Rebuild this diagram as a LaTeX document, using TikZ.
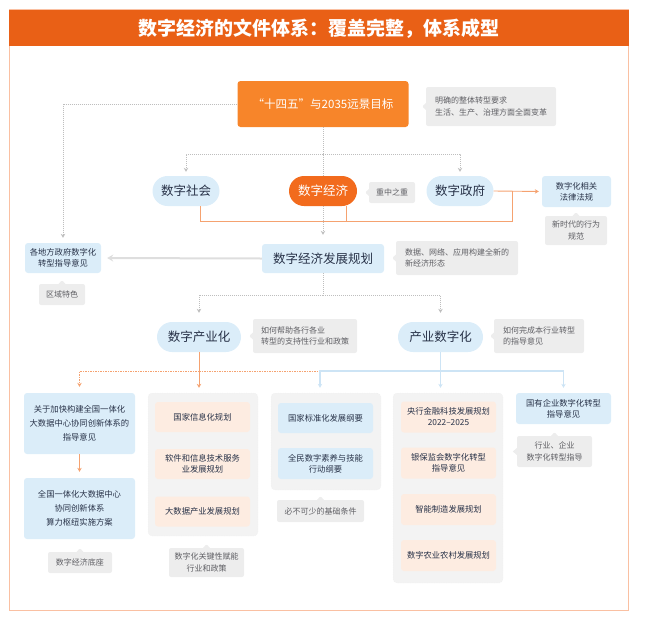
\documentclass[tikz,border=0pt]{standalone}
\usepackage{fontspec}
\setmainfont{Noto Sans CJK SC}
\usepackage{tikz}
\usetikzlibrary{
  arrows.meta,
  positioning,
  calc,
  shapes.callouts
}
\usepackage{xcolor}
\definecolor{titleOrange}{RGB}{233,96,22}
\definecolor{frameOrange}{RGB}{250,192,162}
\definecolor{goalOrange}{RGB}{247,133,42}
\definecolor{econOrange}{RGB}{242,107,29}
\definecolor{paleBlue}{RGB}{219,237,249}
\definecolor{palePeach}{RGB}{253,236,225}
\definecolor{noteGray}{RGB}{237,237,237}
\definecolor{trayGray}{RGB}{243,243,243}
\definecolor{linkOrange}{RGB}{245,162,112}
\definecolor{linkBlue}{RGB}{205,228,245}
\definecolor{linkGray}{RGB}{190,190,190}
\definecolor{inkNavy}{RGB}{40,50,72}
\definecolor{inkGray}{RGB}{95,95,100}
\newcommand{\noteLeft}[6]{\node[note, align=left, minimum width=#4pt,
  minimum height=#5pt,
  callout absolute pointer={({#2-0.5*#4-4},#3)}] (#1) at (#2,#3) {#6};}
\newcommand{\noteUp}[6]{\node[note, align=center, minimum width=#4pt,
  minimum height=#5pt,
  callout absolute pointer={(#2,{#3-0.5*#5-4})}] (#1) at (#2,#3) {#6};}
\tikzset{
  pill/.style={
    rectangle,
    rounded corners=15pt,
    fill=paleBlue,
    text=inkNavy,
    inner sep=0pt,
    minimum height=30pt,
    font=\fontsize{12.5}{14}\selectfont
  }
}
\tikzset{
  card/.style={
    rectangle,
    rounded corners=3pt,
    fill=paleBlue,
    text=inkNavy,
    inner sep=0pt,
    align=center,
    font=\fontsize{8.3}{11}\selectfont
  },
  peachCard/.style={card, fill=palePeach, minimum width=95pt, minimum height=30pt},
  blueCard/.style={card, minimum width=95pt, minimum height=30pt}
}
\tikzset{
  tray/.style={
    rectangle,
    rounded corners=4pt,
    fill=trayGray,
    draw=black!8,
    dotted,
    minimum width=110pt
  }
}
\tikzset{
  note/.style={
    rectangle callout,
    rounded corners=2pt,
    callout pointer width=7pt,
    fill=noteGray,
    text=inkGray,
    inner sep=0pt,
    font=\fontsize{8}{11.5}\selectfont
  }
}
\tikzset{
  tip/.style={-{Stealth[length=4pt,width=4.5pt]}},
  dotLine/.style={draw=linkGray, line width=0.7pt, dash pattern=on 1pt off 1pt},
  dotLink/.style={dotLine, tip},
  orangeLine/.style={draw=linkOrange, line width=0.9pt},
  orangeDot/.style={draw=linkOrange, line width=0.8pt, dash pattern=on 1.5pt off 1pt},
  blueLine/.style={draw=linkBlue, line width=1.6pt},
  grayArrow/.style={draw=black!13, line width=2pt, -{Stealth[length=6pt,width=7pt]}}
}

\begin{document}
\begin{tikzpicture}[x=1pt, y=-1pt, >=Stealth]
    \useasboundingbox (0,0) rectangle (646,622);
    % frame and title
    \draw[frameOrange, line width=1.5pt] (9.5,10) rectangle (628.5,610.5);
    \fill[titleOrange] (9,10) rectangle (629,46);
    \node[text=white, font=\fontsize{19}{22}\selectfont\bfseries] (title)
      at (319,28.5) {数字经济的文件体系：覆盖完整，体系成型};

    % upper levels
    \node[card, fill=goalOrange, text=white, minimum width=171pt,
      minimum height=46pt, font=\fontsize{11.5}{14}\selectfont] (goal)
      at (323,104) {“十四五”与2035远景目标};
    \noteLeft{goalNote}{491}{106.5}{130}{39}{明确的整体转型要求\\生活、生产、治理方面全面变革}

    \node[pill, minimum width=67pt] (society) at (186,191) {数字社会};
    \node[pill, fill=econOrange, text=white, minimum width=68pt] (economy)
      at (323,191) {数字经济};
    \noteLeft{econNote}{392}{192.5}{46}{21}{重中之重}
    \node[pill, minimum width=67pt] (government) at (460,191) {数字政府};
    \node[card, minimum width=69pt, minimum height=31pt] (law)
      at (576.5,191.5) {数字化相关\\法律法规};
    \noteUp{lawNote}{576}{230.5}{62}{29}{新时代的行为\\规范}

    \node[card, minimum width=122pt, minimum height=29pt,
      font=\fontsize{12.5}{14}\selectfont] (plan) at (323,258.5) {数字经济发展规划};
    \noteLeft{planNote}{457}{258}{122}{34}{数据、网络、应用构建全新的\\新经济形态}
    \node[card, minimum width=76pt, minimum height=30pt] (local)
      at (63,258) {各地方政府数字化\\转型指导意见};
    \noteUp{localNote}{62}{294.5}{46}{21}{区域特色}

    \node[pill, minimum width=84pt] (digInd) at (199,337) {数字产业化};
    \noteLeft{digIndNote}{305}{336}{104}{34}{如何帮助各行各业\\转型的支持性行业和政策}
    \node[pill, minimum width=85pt] (indDig) at (440.5,337) {产业数字化};
    \noteLeft{indDigNote}{539}{336}{90}{34}{如何完成本行业转型\\的指导意见}

    % columns of documents
    \node[card, minimum width=111pt, minimum height=61pt,
      font=\fontsize{8.3}{14}\selectfont] (policyA)
      at (79.5,423.5) {关于加快构建全国一体化\\大数据中心协同创新体系的\\指导意见};
    \node[card, minimum width=111pt, minimum height=61pt,
      font=\fontsize{8.3}{14}\selectfont] (policyB)
      at (79.5,508.5) {全国一体化大数据中心\\协同创新体系\\算力枢纽实施方案};
    \noteUp{baseNote}{80}{562.5}{64}{21}{数字经济底座}

    \node[tray, minimum height=143pt] (enableTray) at (203,464.5) {};
    \foreach \Name/\Y/\Text in {infoPlan/417/{国家信息化规划},
      softPlan/464/{软件和信息技术服务\\业发展规划},
      dataPlan/511.5/{大数据产业发展规划}}
      \node[peachCard] (\Name) at (202.5,\Y) {\Text};
    \noteUp{enableNote}{206.5}{562.5}{75}{29}{数字化关键性赋能\\行业和政策}

    \node[tray, minimum height=97pt] (basisTray) at (326,441.5) {};
    \node[blueCard] (standard) at (325.5,418) {国家标准化发展纲要};
    \node[blueCard, minimum height=31pt] (literacy) at (325.5,463.5) {全民数字素养与技能\\行动纲要};
    \noteUp{basisNote}{320.5}{511}{87}{22}{必不可少的基础条件}

    \node[tray, minimum height=190pt] (sectorTray) at (448,488) {};
    \foreach \Name/\Y/\Text in {fintech/417/{央行金融科技发展规划\\2022–2025},
      bankReg/463/{银保监会数字化转型\\指导意见},
      smartMfg/509.5/{智能制造发展规划},
      farmPlan/555.5/{数字农业农村发展规划}}
      \node[peachCard, minimum height=31pt] (\Name) at (448.5,\Y) {\Text};

    \node[blueCard, minimum height=31pt] (soe) at (563.5,408.5) {国有企业数字化转型\\指导意见};
    \noteUp{soeNote}{554.5}{451.5}{75}{31}{行业、企业\\数字化转型指导};
    \fill[noteGray] ($(soeNote.west)+(0,-3.5)$) -- ++(-4,3.5) -- ++(4,3.5) -- cycle;

    % connectors
    \draw[dotLink, shorten >=5pt] (goal.west) -| (local.north);
    \draw[dotLine] (goal.south) -- (economy.north);
    \draw[dotLink, shorten >=9pt] (economy.south) -- (plan.north);
    \draw[dotLink, shorten >=4pt] ($(goal.south)+(0,27)$) -| (society.north);
    \draw[dotLink, shorten >=4pt] ($(goal.south)+(0,27)$) -| (government.north);

    \draw[orangeLine, tip, shorten >=3pt] (government.east) -- (law.west);
    \coordinate (lawJoin) at ($(government.east)!0.4!(law.west)$);
    \draw[orangeLine] ($(society.south)+(14,0)$) |- ($(lawJoin)+(0,30)$) -- (lawJoin);
    \draw[orangeLine] ($(economy.south)+(23,0)$) -- ++(0,15);

    \draw[grayArrow, shorten >=6pt] (plan.west) -- (local.east);
    \draw[dotLink, shorten >=9pt] (plan.south) -- ++(0,22) -| (digInd.north);
    \draw[dotLink, shorten >=9pt] (plan.south) -- ++(0,22) -| (indDig.north);

    \coordinate (indBus) at ($(digInd.south)+(0,19)$);
    \draw[orangeDot, tip, shorten >=6pt] (indBus) -| (policyA.north);
    \draw[orangeDot] (indBus) -- ($(indBus -| basisTray.north)+(-6,0)$);
    \draw[orangeLine, tip, shorten >=5pt] (digInd.south) -- (digInd.south |- enableTray.north);
    \draw[orangeLine, tip, shorten >=6pt] (policyA.south) -- (policyB.north);

    \coordinate (digBus) at ($(indDig.south)+(0,19)$);
    \draw[blueLine, tip, shorten >=5pt] (indDig.south) -- (indDig.south |- sectorTray.north);
    \draw[blueLine, tip, shorten >=5pt] (digBus) -| ($(basisTray.north)+(-6,0)$);
    \draw[blueLine, tip, shorten >=5pt] (digBus) -| (soe.north);
\end{tikzpicture}
\end{document}
